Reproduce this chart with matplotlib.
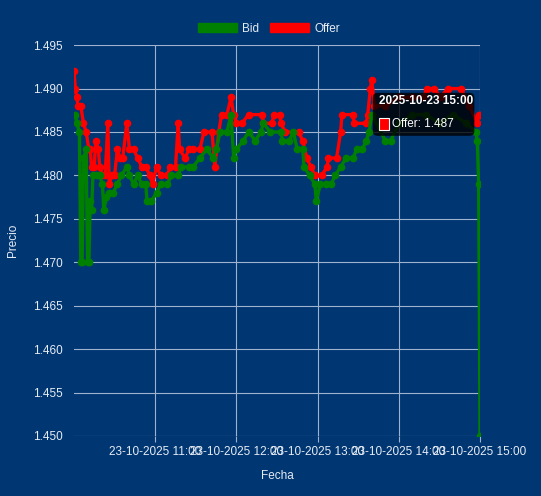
import pandas as pd
import matplotlib
matplotlib.use("Agg")
import matplotlib.pyplot as plt
from matplotlib.patches import Patch, Rectangle, FancyBboxPatch

plt.rcParams['font.family'] = ['Liberation Sans', 'DejaVu Sans']

start = pd.Timestamp('2025-10-23 10:00')

# minutes after 10:00 and prices
offer_min = [0, 1, 2, 3, 5, 7, 9, 11, 12, 13, 15, 16, 18, 19, 21, 23, 25, 26, 28, 30,
             32, 34, 36, 39, 41, 44, 47, 50, 53, 56, 58, 61, 64, 69, 71, 75, 77, 78, 82, 85,
             88, 93, 96, 102, 104, 107, 109, 113, 116, 118, 120, 124, 129, 139, 140, 146, 148, 152, 153, 156,
             166, 169, 172, 175, 178, 183, 187, 188, 194, 197, 198, 206, 207, 216, 217, 219, 220, 222, 230, 240,
             250, 258, 261, 266, 271, 276, 286, 292, 298, 299, 300]
offer_val = [1.492, 1.490, 1.489, 1.488, 1.488, 1.486, 1.485, 1.483, 1.483, 1.481, 1.481, 1.484, 1.483, 1.481, 1.480, 1.480, 1.486, 1.479, 1.480, 1.480,
             1.483, 1.482, 1.482, 1.486, 1.483, 1.483, 1.482, 1.481, 1.481, 1.480, 1.479, 1.481, 1.480, 1.480, 1.481, 1.481, 1.486, 1.483, 1.482, 1.483,
             1.483, 1.483, 1.485, 1.485, 1.481, 1.485, 1.487, 1.487, 1.489, 1.487, 1.486, 1.486, 1.487, 1.487, 1.486, 1.486, 1.487, 1.487, 1.486, 1.485,
             1.485, 1.484, 1.482, 1.481, 1.480, 1.480, 1.481, 1.482, 1.482, 1.485, 1.487, 1.487, 1.486, 1.486, 1.487, 1.490, 1.491, 1.488, 1.488, 1.489,
             1.489, 1.489, 1.490, 1.490, 1.489, 1.490, 1.490, 1.488, 1.486, 1.487, 1.487]

bid_min = [1, 2, 4, 5, 6, 7, 9, 10, 11, 12, 13, 14, 17, 19, 21, 22, 24, 26, 29, 32,
           35, 39, 41, 44, 47, 50, 53, 54, 57, 61, 64, 69, 72, 77, 79, 85, 88, 93, 98, 103,
           105, 108, 113, 116, 118, 120, 125, 129, 134, 138, 140, 145, 153, 154, 159, 162, 165, 169, 170, 174,
           178, 179, 182, 186, 190, 193, 197, 201, 206, 209, 213, 216, 218, 220, 230, 234, 240, 250, 260, 270,
           280, 290, 297, 298, 299, 300]
bid_val = [1.487, 1.486, 1.485, 1.470, 1.470, 1.482, 1.483, 1.470, 1.470, 1.477, 1.476, 1.480, 1.480, 1.480, 1.479, 1.476, 1.4775, 1.478, 1.478, 1.479,
           1.480, 1.481, 1.480, 1.479, 1.480, 1.479, 1.479, 1.477, 1.477, 1.478, 1.479, 1.479, 1.480, 1.480, 1.481, 1.481, 1.481, 1.482, 1.483, 1.482,
           1.483, 1.485, 1.485, 1.487, 1.482, 1.483, 1.484, 1.485, 1.484, 1.485, 1.486, 1.485, 1.485, 1.484, 1.484, 1.485, 1.483, 1.483, 1.481, 1.480,
           1.479, 1.477, 1.479, 1.479, 1.479, 1.480, 1.481, 1.482, 1.482, 1.483, 1.483, 1.484, 1.485, 1.487, 1.484, 1.484, 1.486, 1.487, 1.487, 1.486,
           1.487, 1.486, 1.485, 1.484, 1.479, 1.450]

hour_labels = ['23-10-2025 11:00', '23-10-2025 12:00', '23-10-2025 13:00', '23-10-2025 14:00', '23-10-2025 15:00']
y_ticks = [1.450, 1.455, 1.460, 1.465, 1.470, 1.475, 1.480, 1.485, 1.490, 1.495]

offer_t = start + pd.to_timedelta(offer_min, unit='min')
bid_t = start + pd.to_timedelta(bid_min, unit='min')

bg = '#003672'
grid_c = '#9fb3cf'
txt_c = '#e6ecf4'

fig = plt.figure(figsize=(5.41, 4.96), dpi=100, facecolor=bg)
ax = fig.add_axes([0.1368, 0.121, 0.7505, 0.788], facecolor=bg)

ax.plot(offer_t, offer_val, color='#ff0000', lw=2.4, marker='o', ms=4.5, zorder=3)
ax.plot(bid_t, bid_val, color='#008000', lw=2.4, marker='o', ms=4.5, zorder=4)

ax.set_xlim(start, start + pd.Timedelta(hours=5))
ax.set_ylim(1.450, 1.495)
ax.set_yticks(y_ticks)
ax.set_yticklabels(['%.3f' % v for v in y_ticks])
ax.set_xticks([start + pd.Timedelta(hours=h) for h in range(1, 6)])
ax.set_xticklabels(hour_labels)

ax.grid(True, color=grid_c, lw=0.8)
ax.set_axisbelow(True)
for s in ax.spines.values():
    s.set_visible(False)
ax.tick_params(colors=grid_c, labelcolor=txt_c, labelsize=8.5, length=4, width=0.8)
ax.tick_params(axis='y', length=0, pad=8)

ax.set_xlabel('Fecha', color=txt_c, fontsize=8.5, labelpad=8)
ax.set_ylabel('Precio', color=txt_c, fontsize=8.5, labelpad=10)

handles = [Patch(facecolor='#008000', edgecolor='#008000', label='Bid'),
           Patch(facecolor='#ff0000', edgecolor='#ff0000', label='Offer')]
leg = ax.legend(handles=handles, loc='lower center', bbox_to_anchor=(0.48, 1.0), ncol=2,
                frameon=False, handlelength=3.3, handleheight=0.9, columnspacing=1.0,
                handletextpad=0.4, fontsize=8.5)
for t in leg.get_texts():
    t.set_color(txt_c)

# tooltip
ax.add_patch(FancyBboxPatch((0.736, 0.768), 0.25, 0.11, boxstyle='round,pad=0,rounding_size=0.012',
                            transform=ax.transAxes, facecolor='black', alpha=0.8, edgecolor='none', zorder=10))
ax.text(0.750, 0.857, '2025-10-23 15:00', transform=ax.transAxes, color='white', fontsize=8.5,
        fontweight='bold', va='center', ha='left', zorder=11)
ax.add_patch(Rectangle((0.750, 0.784), 0.026, 0.029, transform=ax.transAxes, facecolor='#ff0000',
                       edgecolor='white', lw=0.8, zorder=11))
ax.text(0.782, 0.799, 'Offer: 1.487', transform=ax.transAxes, color='white', fontsize=8.5,
        va='center', ha='left', zorder=11)

fig.savefig('out.png', dpi=100, facecolor=bg)
